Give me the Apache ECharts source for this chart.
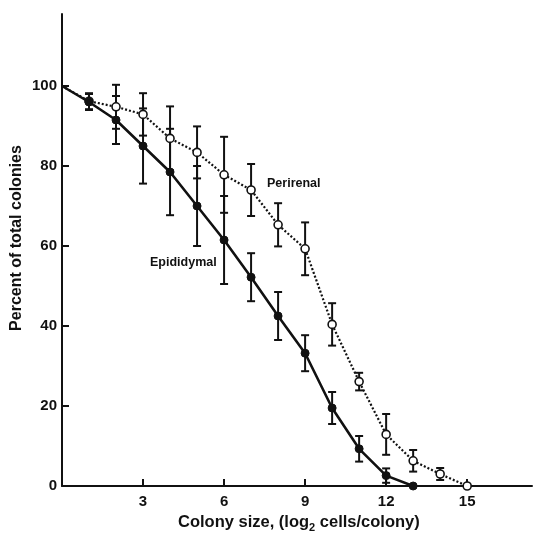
<!DOCTYPE html>
<html>
<head>
<meta charset="utf-8">
<script src="https://cdn.jsdelivr.net/npm/echarts@6/dist/echarts.min.js"></script>
<style>
  html, body { margin: 0; padding: 0; background: #fff; }
  #chart { width: 534px; height: 536px; }
</style>
</head>
<body>
<div id="chart"></div>
<script>
// 数据: 从图上读出
const epiX = [0, 1, 2, 3, 4, 5, 6, 7, 8, 9, 10, 11, 12, 13];
const epiY = [100, 96, 91.5, 85, 78.5, 70, 61.5, 52.2, 42.5, 33.2, 19.5, 9.3, 2.6, 0];
const epiErr = [0, 2, 6, 9.4, 10.8, 10, 11, 6, 6, 4.5, 4, 3.2, 1.8, 0];

const periX = [0, 1, 2, 3, 4, 5, 6, 7, 8, 9, 10, 11, 12, 13, 14, 15];
const periY = [100, 96.2, 94.8, 92.9, 86.9, 83.4, 77.8, 74, 65.3, 59.3, 40.4, 26.1, 12.9, 6.3, 3, 0];
const periErr = [0, 2, 5.5, 5.3, 8, 6.5, 9.5, 6.5, 5.4, 6.6, 5.3, 2.2, 5.1, 2.7, 1.5, 0];

const xTicks = [3, 6, 9, 12, 15];
const yTicks = [0, 20, 40, 60, 80, 100];

const font = '"Liberation Sans", Arial, sans-serif';

function pts(xs, ys) {
  return xs.map((x, i) => ({
    value: [x, ys[i]],
    symbol: i === 0 ? 'none' : undefined
  }));
}
function bars(xs, ys, errs) {
  const out = [];
  xs.forEach((x, i) => {
    if (errs[i] > 0) out.push([x, ys[i] - errs[i], ys[i] + errs[i]]);
  });
  return out;
}

function errorItem(params, api) {
  const x = api.value(0);
  const top = api.coord([x, api.value(2)]);
  const bot = api.coord([x, api.value(1)]);
  const w = 4;
  const st = { stroke: '#111', lineWidth: 2 };
  return {
    type: 'group',
    children: [
      { type: 'line', shape: { x1: top[0], y1: top[1], x2: bot[0], y2: bot[1] }, style: st },
      { type: 'line', shape: { x1: top[0] - w, y1: top[1], x2: top[0] + w, y2: top[1] }, style: st },
      { type: 'line', shape: { x1: bot[0] - w, y1: bot[1], x2: bot[0] + w, y2: bot[1] }, style: st }
    ]
  };
}

const chart = echarts.init(document.getElementById('chart'));
chart.setOption({
  animation: false,
  backgroundColor: '#fff',
  grid: { left: 62, right: 2, top: 14, bottom: 50, containLabel: false, outerBoundsMode: 'none' },
  xAxis: {
    type: 'value',
    min: 0,
    max: 17.4,
    axisLine: { lineStyle: { color: '#111', width: 2 } },
    axisTick: { inside: true, length: 7, lineStyle: { color: '#111', width: 2 }, customValues: xTicks },
    axisLabel: { color: '#111', fontSize: 15, fontWeight: 'bold', fontFamily: font, margin: 8, customValues: xTicks },
    splitLine: { show: false }
  },
  yAxis: {
    type: 'value',
    min: 0,
    max: 118,
    axisLine: { lineStyle: { color: '#111', width: 2 } },
    axisTick: { inside: true, length: 7, lineStyle: { color: '#111', width: 2 }, customValues: yTicks },
    axisLabel: { color: '#111', fontSize: 15, fontWeight: 'bold', fontFamily: font, margin: 5, customValues: yTicks },
    splitLine: { show: false }
  },
  graphic: [
    {
      type: 'text', x: 17, y: 238, rotation: Math.PI / 2,
      style: {
        text: 'Percent of total colonies', fontSize: 16, fontWeight: 'bold', fontFamily: font, fill: '#111',
        align: 'center', verticalAlign: 'middle'
      }
    },
    {
      type: 'text', left: 178, top: 514,
      style: {
        text: '{a|Colony size, (log}{s|2}{a| cells/colony)}',
        rich: {
          a: { fontSize: 16.5, fontWeight: 'bold', fontFamily: font, fill: '#111' },
          s: { fontSize: 11, fontWeight: 'bold', fontFamily: font, fill: '#111', padding: [10, 0, 0, 0] }
        }
      }
    },
    { type: 'text', left: 267, top: 177, style: { text: 'Perirenal', fontSize: 12.5, fontWeight: 'bold', fontFamily: font, fill: '#111' } },
    { type: 'text', left: 150, top: 256, style: { text: 'Epididymal', fontSize: 12.5, fontWeight: 'bold', fontFamily: font, fill: '#111' } }
  ],
  series: [
    {
      name: 'Perirenal err', type: 'custom', renderItem: errorItem,
      data: bars(periX, periY, periErr), z: 1
    },
    {
      name: 'Epididymal err', type: 'custom', renderItem: errorItem,
      data: bars(epiX, epiY, epiErr), z: 1
    },
    {
      name: 'Perirenal', type: 'line', data: pts(periX, periY),
      symbol: 'circle', symbolSize: 8,
      lineStyle: { color: '#111', width: 2.2, type: [2, 2] },
      itemStyle: { color: '#fff', borderColor: '#111', borderWidth: 1.6 },
      z: 3
    },
    {
      name: 'Epididymal', type: 'line', data: pts(epiX, epiY),
      symbol: 'circle', symbolSize: 8,
      lineStyle: { color: '#111', width: 2.6 },
      itemStyle: { color: '#111', borderColor: '#111', borderWidth: 1 },
      z: 4
    }
  ]
});
</script>
</body>
</html>
